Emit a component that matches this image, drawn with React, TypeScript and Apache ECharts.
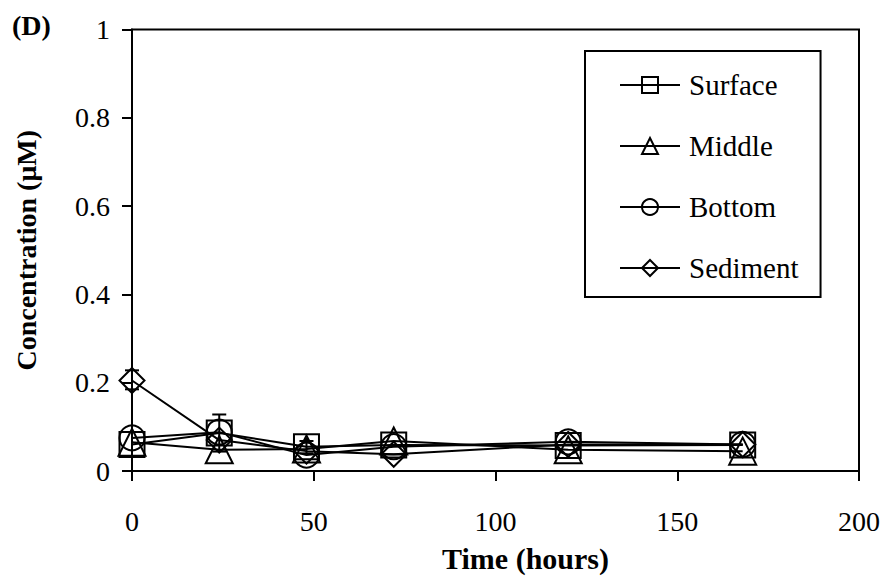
import React, { useEffect, useRef } from "react";
import * as echarts from "echarts";

const times = [0, 24, 48, 72, 120, 168];
const surface = [0.06, 0.086, 0.055, 0.059, 0.058, 0.059];
const middle = [0.065, 0.048, 0.05, 0.068, 0.048, 0.045];
const bottom = [0.075, 0.088, 0.036, 0.055, 0.066, 0.06];
const sediment = [0.205, 0.07, 0.045, 0.038, 0.06, 0.06];
// error bars: [time, low, high]
const errorBars = [
  [0, 0.185, 0.228],
  [24, 0.044, 0.128],
  [48, 0.04, 0.068],
];
const seriesNames = ["Surface", "Middle", "Bottom", "Sediment"];
const symbols = ["rect", "triangle", "circle", "diamond"];
const xTicks = [0, 50, 100, 150, 200];

const FONT = "'Liberation Serif', 'Times New Roman', Times, serif";

export default function App() {
  const ref = useRef<HTMLDivElement>(null);
  useEffect(() => {
    if (!ref.current) return;
    const chart = echarts.init(ref.current, null, { renderer: "svg" });
    const allData = [surface, middle, bottom, sediment];
    const lineSeries = seriesNames.map((name, i) => ({
      name,
      type: "line",
      data: times.map((t, j) => [t, allData[i][j]]),
      symbol: symbols[i],
      symbolSize: i === 1 ? 27 : 25,
      showSymbol: true,
      lineStyle: { color: "#000", width: 2 },
      itemStyle: { color: "transparent", borderColor: "#000", borderWidth: 2 },
      z: 3,
    }));
    chart.setOption({
      animation: false,
      backgroundColor: "#fff",
      textStyle: { fontFamily: FONT, color: "#000" },
      graphic: [
        {
          type: "text",
          left: 12,
          top: 11,
          style: { text: "(D)", fontFamily: FONT, fontSize: 28, fontWeight: "bold", fill: "#000" },
        },
      ],
      grid: {
        left: 132,
        right: 27,
        top: 29.5,
        bottom: 112,
        outerBoundsMode: "none",
        containLabel: false,
        show: true,
        borderColor: "#000",
        borderWidth: 2,
        backgroundColor: "transparent",
      },
      legend: {
        data: seriesNames,
        orient: "vertical",
        left: 585,
        top: 51,
        padding: [19, 22, 14, 34],
        itemWidth: 60,
        itemHeight: 20,
        itemGap: 31,
        borderColor: "#000",
        borderWidth: 2,
        backgroundColor: "#fff",
        textStyle: { fontFamily: FONT, fontSize: 29, color: "#000", lineHeight: 30, padding: [0, 0, 0, 4] },
      },
      xAxis: {
        type: "value",
        min: 0,
        max: 200,
        interval: 50,
        name: "Time (hours)",
        nameLocation: "middle",
        nameGap: 72,
        nameTextStyle: { fontFamily: FONT, fontSize: 30, fontWeight: "bold", color: "#000", padding: [0, 0, 0, 60] },
        axisLine: { show: true, lineStyle: { color: "#000", width: 2 } },
        axisTick: { show: true, length: 10, inside: false, lineStyle: { color: "#000", width: 2 } },
        axisLabel: {
          fontFamily: FONT,
          fontSize: 28,
          color: "#000",
          margin: 36,
          formatter: (v: number) => (xTicks.includes(v) ? String(v) : ""),
        },
        splitLine: { show: false },
      },
      yAxis: {
        type: "value",
        min: 0,
        max: 1,
        interval: 0.2,
        name: "Concentration (μM)",
        nameLocation: "middle",
        nameGap: 92,
        nameTextStyle: { fontFamily: FONT, fontSize: 28, fontWeight: "bold", color: "#000" },
        axisLine: { show: true, lineStyle: { color: "#000", width: 2 } },
        axisTick: { show: true, length: 10, inside: false, lineStyle: { color: "#000", width: 2 } },
        axisLabel: {
          fontFamily: FONT,
          fontSize: 28,
          color: "#000",
          margin: 22,
          formatter: (v: number) => String(Math.round(v * 10) / 10),
        },
        splitLine: { show: false },
      },
      series: [
        {
          name: "errors",
          type: "custom",
          data: errorBars,
          z: 2,
          renderItem: (params: any, api: any) => {
            const x = api.value(0);
            const lo = api.coord([x, api.value(1)]);
            const hi = api.coord([x, api.value(2)]);
            const w = 7;
            const style = { stroke: "#000", lineWidth: 2 };
            return {
              type: "group",
              children: [
                { type: "line", shape: { x1: lo[0], y1: lo[1], x2: hi[0], y2: hi[1] }, style },
                { type: "line", shape: { x1: hi[0] - w, y1: hi[1], x2: hi[0] + w, y2: hi[1] }, style },
                { type: "line", shape: { x1: lo[0] - w, y1: lo[1], x2: lo[0] + w, y2: lo[1] }, style },
              ],
            };
          },
        },
        ...lineSeries,
      ],
    });
    return () => chart.dispose();
  }, []);
  return (
    <div
      ref={ref}
      style={{ position: "absolute", left: 0, top: 0, width: 886, height: 583 }}
    />
  );
}
